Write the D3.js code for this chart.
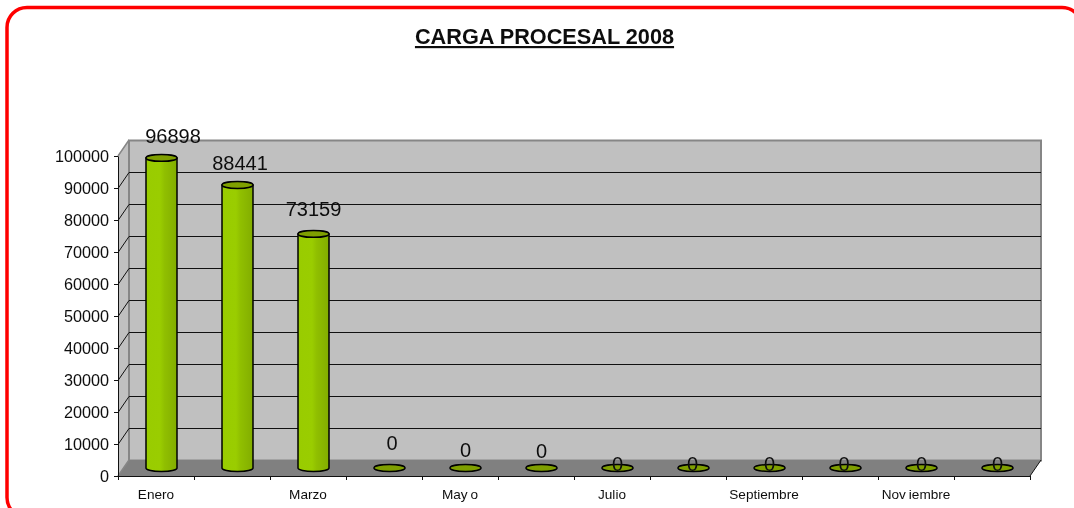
<!DOCTYPE html>
<html>
<head>
<meta charset="utf-8">
<script src="https://cdn.jsdelivr.net/npm/d3@7"></script>
<style>
    html, body { margin: 0; padding: 0; background: #fff; overflow: hidden; }
    text { font-family: "Liberation Sans", Arial, sans-serif; fill: #111; }
</style>
</head>
<body>
<svg width="1074" height="508"></svg>
<script>
const MONTHS = ["Enero", "Febrero", "Marzo", "Abril", "Mayo", "Junio", "Julio", "Agosto", "Septiembre", "Octubre", "Noviembre", "Diciembre"];
const SHOWN_MONTHS = ["Enero", "Marzo", "Mayo", "Julio", "Septiembre", "Noviembre"];
const VALUES = [96898, 88441, 73159, 0, 0, 0, 0, 0, 0, 0, 0, 0];
const Y_TICKS = [0, 10000, 20000, 30000, 40000, 50000, 60000, 70000, 80000, 90000, 100000];

// the data labels were moved by hand in the original chart
const LABEL_NUDGE_X = [11.5, 2.5, 0, 2.5, 0, 0, 0, -1, 0, -1.5, 0, 0];
const LABEL_NUDGE_Y = [-14.5, -15, -18, -18, -11, -10, 3, 3, 3, 3, 3, 3];

const depthX = 11;
const depthY = -16;
const barRadius = 15.5;
const capRadius = 3.4;

const svg = d3.select("svg");

const xScale = d3.scaleBand().domain(MONTHS).range([118, 1030]);
const tickScale = d3.scaleLinear().domain([0, 12]).range([118, 1030]);
const yScale = d3.scaleLinear().domain([0, 100000]).range([476, 156]);

const defs = svg.append("defs");
const grad = defs.append("linearGradient").attr("id", "barFill");
grad.append("stop").attr("offset", "0").attr("stop-color", "#99cc00");
grad.append("stop").attr("offset", "0.45").attr("stop-color", "#9acd00");
grad.append("stop").attr("offset", "0.6").attr("stop-color", "#90bf00");
grad.append("stop").attr("offset", "1").attr("stop-color", "#82ad00");

const soft = defs.append("filter").attr("id", "soft");
soft.append("feGaussianBlur").attr("stdDeviation", 0.3);

// frame
svg.append("rect")
    .attr("x", 7)
    .attr("y", 7.5)
    .attr("width", 1075)
    .attr("height", 510)
    .attr("rx", 20)
    .attr("fill", "#fff")
    .attr("stroke", "#ff0000")
    .attr("stroke-width", 3.5);

svg.append("text")
    .attr("x", 544.5)
    .attr("y", 44)
    .attr("text-anchor", "middle")
    .attr("font-size", 21.7)
    .attr("font-weight", "bold")
    .attr("text-decoration", "underline")
    .attr("filter", "url(#soft)")
    .text("CARGA PROCESAL 2008");

// walls and floor
const left = tickScale(0);
const right = tickScale(12);
const top0 = yScale(100000);
const bottom = yScale(0);

svg.append("polygon")
    .attr("points", [[left, bottom], [left, top0], [left + depthX, top0 + depthY], [left + depthX, bottom + depthY]].join(" "))
    .attr("fill", "#c0c0c0");
svg.append("rect")
    .attr("x", left + depthX)
    .attr("y", top0 + depthY + 0.5)
    .attr("width", right - left)
    .attr("height", bottom - top0)
    .attr("fill", "#c0c0c0")
    .attr("stroke", "#868686")
    .attr("stroke-width", 2);
svg.append("polygon")
    .attr("points", [[left, bottom], [right, bottom], [right + depthX, bottom + depthY], [left + depthX, bottom + depthY]].join(" "))
    .attr("fill", "#808080");

// gridlines
svg.selectAll(".grid")
    .data(Y_TICKS.slice(1, -1))
    .enter()
    .append("path")
    .classed("grid", true)
    .attr("d", (d) => `M${left},${yScale(d) + 0.5}L${left + depthX},${yScale(d) + depthY + 0.5}H${right + depthX}`)
    .attr("fill", "none")
    .attr("stroke", "#111")
    .attr("stroke-width", 1);

svg.append("path")
    .attr("d", `M${left},${top0}L${left + depthX},${top0 + depthY}M${left},${bottom}L${left + depthX},${bottom + depthY}`)
    .attr("stroke", "#868686")
    .attr("stroke-width", 1.5);
svg.append("path")
    .attr("d", `M${right},${bottom}L${right + depthX},${bottom + depthY}`)
    .attr("stroke", "#111");

// axes
const yAxis = svg.append("g")
    .attr("transform", `translate(${left},0)`)
    .call(d3.axisLeft(yScale).tickValues(Y_TICKS).tickFormat(d3.format("d")).tickSize(4).tickPadding(5).tickSizeOuter(0));
yAxis.selectAll("text").attr("font-size", 16.2).attr("filter", "url(#soft)");
yAxis.selectAll("line, path").attr("stroke", "#111");

const tickAxis = svg.append("g")
    .attr("transform", `translate(0,${bottom})`)
    .call(d3.axisBottom(tickScale).ticks(12).tickSize(4).tickFormat("").tickSizeOuter(0));
tickAxis.selectAll("line, path").attr("stroke", "#111");

const monthAxis = svg.append("g")
    .attr("transform", `translate(0,${bottom})`)
    .call(d3.axisBottom(xScale).tickValues(SHOWN_MONTHS).tickSize(0).tickPadding(13));
monthAxis.select(".domain").remove();
monthAxis.selectAll("text")
    .attr("font-size", 13.6)
    .attr("filter", "url(#soft)")
    .each(function (d) {
        // "Mayo" and "Noviembre" have a small gap in the original
        const m = d.match(/^(.*?[yv])(.+)$/);
        if (!m) return;
        const t = d3.select(this).text(null);
        t.append("tspan").text(m[1]);
        t.append("tspan").attr("dx", 3).text(m[2]);
    });

// bars
const barCenter = (i) => xScale(MONTHS[i]) + xScale.bandwidth() / 2 + depthX / 2;
const barTop = (d) => yScale(d) + depthY / 2;
const barBase = yScale(0) + depthY / 2;

const bars = svg.selectAll(".bar").data(VALUES).enter().append("g").classed("bar", true);

bars.filter((d) => d > 0)
    .append("path")
    .attr("d", (d, i) => {
        const cx = barCenter(i);
        return `M${cx - barRadius},${barTop(d)}V${barBase}A${barRadius},${capRadius} 0 0 0 ${cx + barRadius},${barBase}V${barTop(d)}Z`;
    })
    .attr("fill", "url(#barFill)")
    .attr("stroke", "#000")
    .attr("stroke-width", 1.5);

bars.append("ellipse")
    .attr("cx", (d, i) => barCenter(i))
    .attr("cy", (d) => barTop(d))
    .attr("rx", barRadius)
    .attr("ry", capRadius)
    .attr("fill", "#7f9f00")
    .attr("stroke", "#000")
    .attr("stroke-width", 1.5);

// data labels
svg.selectAll(".value")
    .data(VALUES)
    .enter()
    .append("text")
    .classed("value", true)
    .attr("x", (d, i) => barCenter(i) + LABEL_NUDGE_X[i])
    .attr("y", (d, i) => barTop(d) + LABEL_NUDGE_Y[i])
    .attr("text-anchor", "middle")
    .attr("font-size", 20)
    .attr("filter", "url(#soft)")
    .text((d) => d);
</script>
</body>
</html>
